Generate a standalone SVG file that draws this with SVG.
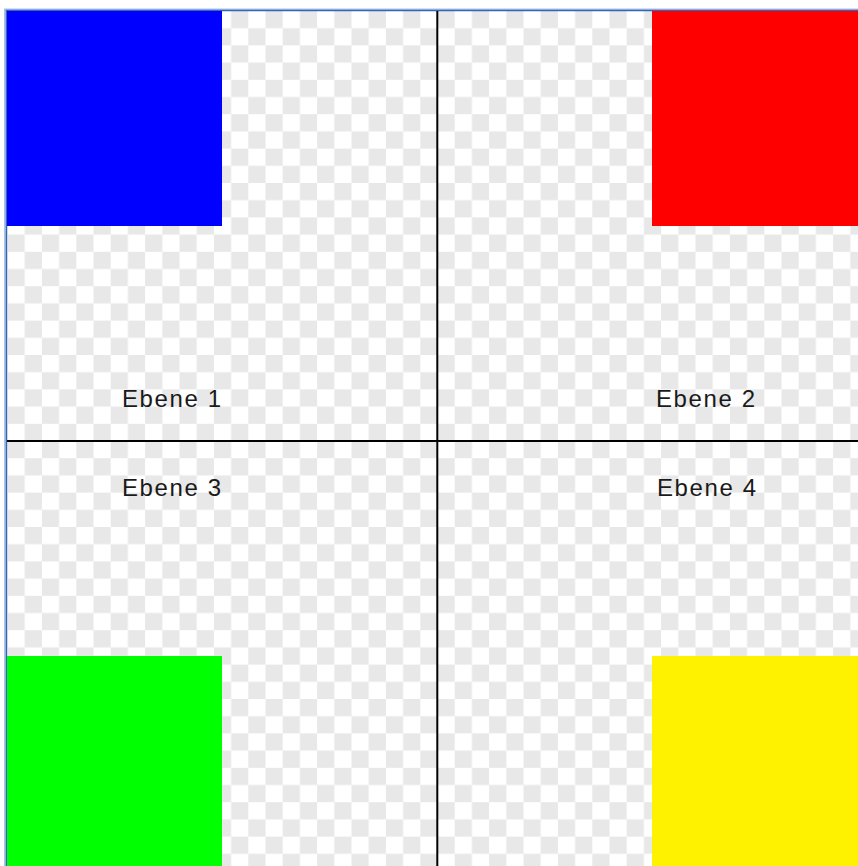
<svg xmlns="http://www.w3.org/2000/svg" width="858" height="866" viewBox="0 0 858 866">
  <defs>
    <pattern id="checker" patternUnits="userSpaceOnUse" x="7.5" y="11" width="34.4" height="34.4">
      <rect x="0" y="0" width="34.4" height="34.4" fill="#ffffff"/>
      <rect x="17.2" y="0" width="17.2" height="17.2" fill="#e8e8e8"/>
      <rect x="0" y="17.2" width="17.2" height="17.2" fill="#e8e8e8"/>
    </pattern>
  </defs>
  <style>
    .label { font-family: "Liberation Sans", Arial, sans-serif; font-size: 24px; letter-spacing: 1.6px; fill: #1a1a1a; }
    .divider { stroke: #000000; stroke-width: 2; fill: none; }
  </style>
  <rect x="0" y="0" width="858" height="866" fill="#ffffff"/>
  <rect x="7" y="11" width="851" height="855" fill="url(#checker)"/>
  <g id="frame">
    <path d="M5,866 V9.5 H858" fill="none" stroke="#a9c4ea" stroke-width="2"/>
    <path d="M6.5,866 V10.5 H858" fill="none" stroke="#3565b8" stroke-width="1.4"/>
  </g>
  <g id="ebene1">
    <rect x="7" y="11" width="215" height="215" fill="#0000ff"/>
    <text class="label" x="122" y="407">Ebene 1</text>
  </g>
  <g id="ebene2">
    <rect x="652" y="11" width="206" height="215" fill="#ff0000"/>
    <text class="label" x="656" y="407">Ebene 2</text>
  </g>
  <g id="ebene3">
    <rect x="7" y="656" width="215" height="210" fill="#00ff00"/>
    <text class="label" x="122" y="496">Ebene 3</text>
  </g>
  <g id="ebene4">
    <rect x="652" y="656" width="206" height="210" fill="#fff200"/>
    <text class="label" x="657" y="496">Ebene 4</text>
  </g>
  <g id="connectors">
    <line class="divider" x1="437.3" y1="11" x2="437.3" y2="866"/>
    <line class="divider" x1="7" y1="441" x2="858" y2="441"/>
  </g>
</svg>
